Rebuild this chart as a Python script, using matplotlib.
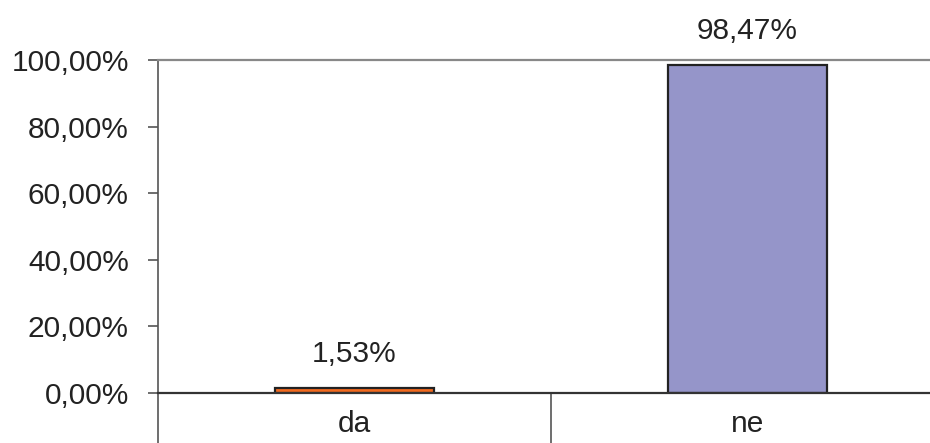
import matplotlib
matplotlib.use("Agg")
import matplotlib.pyplot as plt
from matplotlib.ticker import FuncFormatter, FixedLocator

plt.rcParams['font.family'] = ['Liberation Sans', 'DejaVu Sans']

categories = ["da", "ne"]
shares = [1.53, 98.47]          # percent
bar_colors = ["#F26A1F", "#9595C9"]
y_ticks = [0, 20, 40, 60, 80, 100]

fs = 21.5
fig = plt.figure(figsize=(9.30, 4.43), dpi=100)
W, H = 930, 443
left_px, right_px, top_px, bottom_px = 158, 944, 60, 393
ax = fig.add_axes([left_px / W, (H - bottom_px) / H,
                   (right_px - left_px) / W, (bottom_px - top_px) / H])

x = list(range(len(categories)))
ax.bar(x, shares, width=0.405, color=bar_colors, edgecolor="#222222",
       linewidth=1.6, zorder=3)

for xi, v in zip(x, shares):
    ax.annotate(f"{v:.2f}%".replace(".", ","), (xi, v),
                xytext=(0, 18.5), textcoords="offset points",
                ha="center", va="baseline", fontsize=fs, color="#222222")

ax.set_xlim(-0.5, len(categories) - 0.5)
ax.set_ylim(0, 100)

ax.set_yticks(y_ticks)
ax.yaxis.set_major_formatter(FuncFormatter(lambda v, p: f"{v:.2f}%".replace(".", ",")))
ax.tick_params(axis="y", direction="out", length=7, width=1.2, color="#555555",
               pad=14, labelsize=fs, labelcolor="#222222")

ax.set_xticks(x)
ax.set_xticklabels(categories)
ax.tick_params(axis="x", which="major", length=0, pad=12, labelsize=fs,
               labelcolor="#222222")
ax.xaxis.set_minor_locator(FixedLocator([i - 0.5 for i in range(len(categories) + 1)]))
ax.tick_params(axis="x", which="minor", direction="out", length=36, width=1.2,
               color="#555555")

ax.spines["left"].set_color("#555555")
ax.spines["left"].set_linewidth(1.2)
ax.spines["bottom"].set_color("#333333")
ax.spines["bottom"].set_linewidth(1.6)
ax.spines["bottom"].set_zorder(4)
ax.spines["top"].set_color("#888888")
ax.spines["top"].set_linewidth(1.6)
ax.spines["right"].set_visible(False)

fig.savefig("out.png", dpi=100)
